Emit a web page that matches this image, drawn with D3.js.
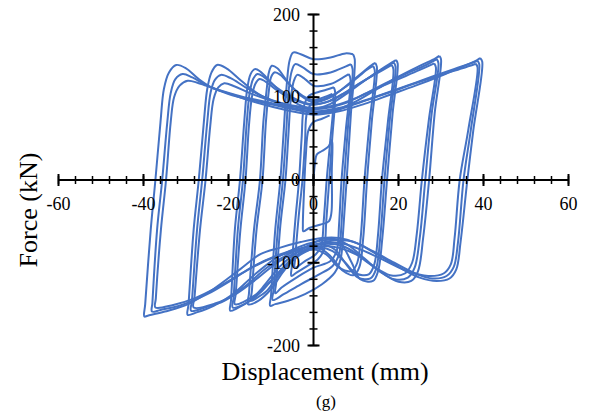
<!DOCTYPE html>
<html>
<head>
<meta charset="utf-8">
<script src="https://cdn.jsdelivr.net/npm/d3@7"></script>
<style>
  html, body { margin: 0; padding: 0; background: #fff; }
  svg { display: block; }
  text { font-family: "Liberation Serif", "Times New Roman", serif; fill: #000; }
</style>
</head>
<body>
<svg id="chart" width="590" height="417"></svg>
<script>
// Hysteresis loops: each loop is a list of [displacement (mm), force (kN)]
const loopInit = [[0,0],[0.3,18],[0.8,31],[2,35],[3.6,41],[4.2,48],[4.4,46],[4.3,10],[4.2,-40],[3.6,-50],[1.5,-54],[-1,-58],[-2.4,-62],[-2.5,-55],[-2.2,-10],[-1.8,30],[-1.2,60],[0,70],[2,74],[3.8,78]];
const loop5a = [[4.8,112],[5.1,106],[4.4,50],[3.7,0],[3,-50],[2.4,-85],[1,-96],[-1.5,-104],[-4,-112],[-5.2,-116],[-5.1,-104],[-4.3,-50],[-3.4,0],[-2.8,50],[-2.2,90],[-1,102],[1,106],[3,109],[4.8,112]];
const loop5b = [[4.4,104],[4.7,99],[3.9,45],[3.1,0],[2.4,-50],[1.8,-80],[0.5,-90],[-2,-98],[-4.4,-106],[-4.3,-95],[-3.5,-45],[-2.6,0],[-2,45],[-1.5,82],[0,95],[2.5,100],[4.4,104]];
const loop10a = [[9.3,152],[9.7,146],[8.8,80],[7.8,0],[7,-60],[6.4,-95],[5,-112],[2,-126],[-2,-138],[-6,-146],[-9,-150],[-10.2,-152],[-10,-140],[-9,-60],[-7.8,0],[-7,60],[-6.3,115],[-5.6,145],[-4.8,154],[-3,152],[0,146],[4,148],[7.5,153],[9.3,152]];
const loop10b = [[8.8,140],[9.2,134],[8.2,70],[7.2,0],[6.5,-60],[6,-90],[4.5,-104],[1,-115],[-3,-126],[-7,-138],[-9.6,-145],[-9.4,-133],[-8.4,-60],[-7.2,0],[-6.4,60],[-5.8,110],[-5.1,132],[-4.3,140],[-2.5,136],[0,128],[4,130],[7.5,137],[8.8,140]];
const loop10c = [[8.3,128],[8.7,122],[7.6,60],[6.6,0],[6,-55],[5.5,-85],[4,-98],[0,-106],[-4,-118],[-7.5,-130],[-9,-137],[-8.8,-125],[-7.8,-55],[-6.6,0],[-5.9,55],[-5.3,100],[-4.6,120],[-3.8,127],[-2,122],[0,114],[4,116],[7,124],[8.3,128]];
const loop15a = [[14.5,141.6],[14.9,137],[13.7,70],[12.6,0],[11.7,-70],[10.8,-105],[9.5,-115],[7,-110],[4,-92],[1,-82],[-3,-88],[-7,-110],[-10,-132],[-13,-146],[-15.4,-150],[-15.2,-138],[-14,-60],[-12.6,0],[-11.8,70],[-11,110],[-10.5,130],[-9.8,138],[-8.5,135],[-6,118],[-3,102],[0,94],[4,100],[8,115],[12,132],[14,140],[14.5,141.6]];
const loop15b = [[14,138],[14.4,133],[13.2,70],[12,0],[11.1,-70],[10.3,-100],[9,-110],[6,-106],[3,-90],[0,-84],[-4,-92],[-8,-114],[-11,-134],[-13.5,-143],[-14.7,-146],[-14.5,-134],[-13.4,-60],[-12,0],[-11.2,70],[-10.5,108],[-10,124],[-9.2,130],[-7.8,127],[-5,112],[-2,100],[1,96],[5,104],[9,118],[12.5,133],[14,138]];
const loop20a = [[19.4,145],[19.8,141],[18.6,80],[17.3,0],[16.2,-70],[15.2,-110],[14,-122],[11,-120],[9,-100],[6,-74],[3,-70],[0,-76],[-4,-88],[-8,-105],[-12,-130],[-15,-146],[-18,-155],[-19.6,-158],[-19.4,-145],[-18.5,-60],[-17.3,0],[-16.3,70],[-15.6,110],[-14.8,128],[-13.8,134],[-12.5,131],[-10,118],[-7,103],[-3,90],[0,86],[4,92],[8,105],[12,120],[16,134],[18.8,143],[19.4,145]];
const loop20b = [[18.9,142],[19.3,137],[18,75],[16.7,0],[15.7,-70],[14.7,-108],[13.4,-119],[10.5,-118],[8,-104],[5,-84],[2,-78],[-1,-82],[-5,-95],[-9,-116],[-12.5,-136],[-15.5,-148],[-19,-154],[-18.8,-142],[-17.8,-60],[-16.6,0],[-15.7,70],[-15,106],[-14.2,122],[-13.2,128],[-11.8,125],[-9,113],[-5,100],[-1,92],[3,94],[7,104],[11,117],[15,130],[18.9,142]];
const loop20c = [[18.4,139],[18.8,134],[17.5,70],[16.1,0],[15.2,-65],[14.3,-102],[13,-114],[10,-113],[7.5,-100],[4.5,-86],[1.5,-82],[-2,-87],[-6,-102],[-10,-122],[-14,-140],[-18.5,-150],[-18.3,-138],[-17.2,-60],[-16,0],[-15.2,65],[-14.5,100],[-13.7,116],[-12.7,122],[-11.3,119],[-8.5,108],[-4.5,97],[-0.5,91],[3.5,95],[7.5,106],[11.5,119],[15,129],[18.4,139]];
const loop30a = [[29.6,150],[30,146],[28.5,80],[27.2,0],[25.8,-70],[24.6,-110],[23,-122],[20,-123],[16,-112],[12,-95],[8,-78],[5,-72],[1,-74],[-4,-82],[-9,-95],[-14,-115],[-19,-138],[-23.5,-152],[-27.5,-160],[-29.6,-163],[-29.4,-150],[-28.2,-60],[-27,0],[-25.8,70],[-25,110],[-24,130],[-22.7,139],[-20.5,135],[-17,120],[-13,104],[-8,92],[-3,84],[0,81],[5,84],[10,95],[15,110],[20,125],[25,138],[28.7,147],[29.6,150]];
const loop30b = [[29,146],[29.4,141],[27.8,80],[26.3,0],[25,-70],[23.8,-106],[22.2,-118],[19,-120],[15,-108],[11,-92],[7,-80],[3,-77],[-1,-80],[-6,-90],[-11,-106],[-16,-128],[-21,-146],[-25.5,-154],[-28.8,-158],[-28.6,-146],[-27.4,-60],[-26.2,0],[-25,70],[-24.2,106],[-23.2,121],[-21.8,127],[-19.5,123],[-16,112],[-12,101],[-7,92],[-2,86],[2,86],[7,92],[12,104],[17,117],[22,129],[26.5,139],[29,146]];
const loop30c = [[28.4,141],[28.8,136],[27.2,75],[25.5,0],[24.3,-65],[23.2,-100],[21.5,-113],[18,-115],[14,-104],[10,-90],[6,-82],[2,-80],[-3,-86],[-8,-98],[-13,-118],[-18,-137],[-23,-149],[-28.2,-154],[-28,-142],[-26.7,-60],[-25.4,0],[-24.3,65],[-23.5,98],[-22.4,112],[-21,117],[-18.5,113],[-15,105],[-10,96],[-5,90],[0,87],[5,90],[10,99],[15,111],[20,122],[25,133],[28.4,141]];
const loop40a = [[39.2,147.5],[39.7,143],[37.6,60],[36.2,0],[34.6,-75],[33.6,-108],[32,-119],[29,-122],[25,-118],[20,-105],[15,-90],[10,-76],[6,-70],[2,-70],[-3,-75],[-8,-82],[-12.6,-90],[-17.3,-108],[-23.6,-132],[-29.5,-150],[-35,-159],[-39,-164],[-39.8,-165],[-39.6,-150],[-38.3,-60],[-37.2,0],[-36,70],[-35.2,110],[-34,130],[-32.3,139],[-30,135],[-27,122],[-24,112],[-19,103],[-13,93],[-6,84],[0,79],[6,83],[12,92],[18,103],[24,114],[30,126],[35,137],[38.5,145],[39.2,147.5]];
const loop40b = [[38.6,144],[39,140],[37,60],[35.3,0],[34,-75],[33,-105],[31.3,-116],[28,-119],[24,-113],[19,-100],[14,-86],[9,-74],[5,-73],[1,-77],[-4,-84],[-9,-92],[-14,-104],[-19,-120],[-25,-138],[-31,-151],[-36,-157],[-38,-159],[-37.9,-148],[-36.8,-60],[-35.6,0],[-34.4,70],[-33.6,105],[-32.5,122],[-30.8,128],[-28.5,124],[-25,114],[-20,104],[-14,96],[-7,88],[-1,82],[4,83],[10,92],[16,103],[22,114],[28,125],[33,134],[37,141],[38.6,144]];
const loop40c = [[38.2,140.5],[38.6,136],[36.4,60],[34.4,0],[33.2,-70],[32.3,-102],[30.6,-113],[27,-116],[22,-110],[17,-98],[12,-86],[7,-77],[3,-76],[-1,-80],[-6,-88],[-11,-97],[-16,-110],[-22,-128],[-28,-143],[-33,-151],[-37.2,-154],[-37.1,-143],[-35.9,-60],[-34.7,0],[-33.6,70],[-32.8,100],[-31.5,114],[-29.6,120],[-27,117],[-23,110],[-17,101],[-10,93],[-4,86],[1,83],[6,87],[12,96],[18,106],[24,117],[30,127],[35,135],[38.2,140.5]];

const loops = [loopInit, loop5a, loop5b, loop10a, loop10b, loop10c, loop15a, loop15b,
               loop20a, loop20b, loop20c, loop30a, loop30b, loop30c, loop40a, loop40b, loop40c];

// Axis ticks and labels
const xMajor = [-60, -40, -20, 0, 20, 40, 60];
const xMinor = d3.range(-60, 60.1, 4);
const yMajor = [-200, -100, 0, 100, 200];
const yMinor = d3.range(-200, 200.1, 20);
const xLabels = ["-60", "-40", "-20", "0", "20", "40", "60"];
const yLabels = ["-200", "-100", "0", "100", "200"];

const svg = d3.select("#chart");
const x = d3.scaleLinear().domain([-60, 60]).range([58.5, 568.5]);
const y = d3.scaleLinear().domain([-200, 200]).range([345.5, 14.5]);

// Loops
const line = d3.line()
  .x(d => x(d[0]))
  .y(d => y(d[1]))
  .curve(d3.curveCatmullRom.alpha(0.5));

svg.append("g")
  .selectAll("path")
  .data(loops)
  .join("path")
  .attr("d", line)
  .attr("fill", "none")
  .attr("stroke", "#4472C4")
  .attr("stroke-width", 2)
  .attr("stroke-linejoin", "round");

// Axes crossing at the origin, with ticks crossing the axis line
const axes = svg.append("g").attr("stroke", "#000");
const y0 = y(0), x0 = x(0);

axes.append("line")
  .attr("x1", x(-60)).attr("x2", x(60))
  .attr("y1", y0).attr("y2", y0)
  .attr("stroke-width", 2);
axes.append("line")
  .attr("x1", x0).attr("x2", x0)
  .attr("y1", y(200)).attr("y2", y(-200))
  .attr("stroke-width", 2);

axes.selectAll(".xminor").data(xMinor).join("line")
  .attr("x1", d => x(d)).attr("x2", d => x(d))
  .attr("y1", y0 - 4).attr("y2", y0 + 4)
  .attr("stroke-width", 1.5);
axes.selectAll(".xmajor").data(xMajor).join("line")
  .attr("x1", d => x(d)).attr("x2", d => x(d))
  .attr("y1", y0 - 6).attr("y2", y0 + 6)
  .attr("stroke-width", 2);
axes.selectAll(".yminor").data(yMinor).join("line")
  .attr("y1", d => y(d)).attr("y2", d => y(d))
  .attr("x1", x0 - 4).attr("x2", x0 + 4)
  .attr("stroke-width", 1.5);
axes.selectAll(".ymajor").data(yMajor).join("line")
  .attr("y1", d => y(d)).attr("y2", d => y(d))
  .attr("x1", x0 - 6).attr("x2", x0 + 6)
  .attr("stroke-width", 2);

// Tick labels
svg.append("g").selectAll("text").data(xMajor).join("text")
  .attr("x", d => x(d)).attr("y", 210)
  .attr("text-anchor", "middle")
  .attr("font-size", 18)
  .text((d, i) => xLabels[i]);

svg.append("g").selectAll("text").data(yMajor).join("text")
  .attr("x", 300).attr("y", d => y(d) + 6)
  .attr("text-anchor", "end")
  .attr("font-size", 18)
  .text((d, i) => yLabels[i]);

// Titles
svg.append("text")
  .attr("transform", "translate(37,210) rotate(-90)")
  .attr("text-anchor", "middle")
  .attr("font-size", 26)
  .text("Force (kN)");

svg.append("text")
  .attr("x", 325).attr("y", 380)
  .attr("text-anchor", "middle")
  .attr("font-size", 26)
  .text("Displacement (mm)");

svg.append("text")
  .attr("x", 326).attr("y", 407)
  .attr("text-anchor", "middle")
  .attr("font-size", 17)
  .text("(g)");
</script>
</body>
</html>
